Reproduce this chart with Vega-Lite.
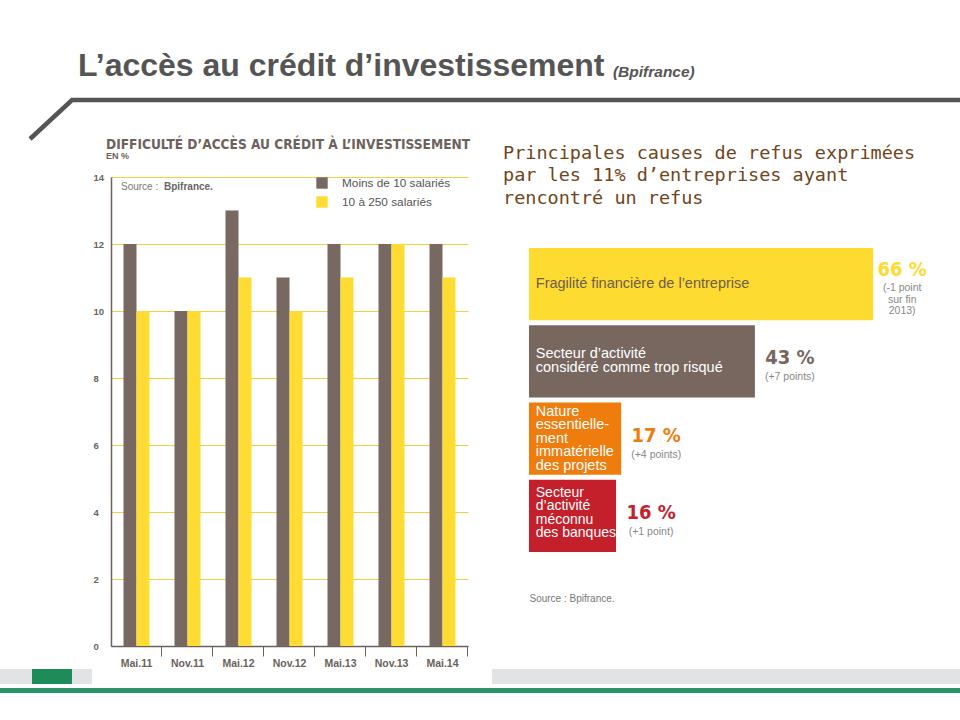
{
  "$schema": "https://vega.github.io/schema/vega-lite/v6.json",
  "background": "white",
  "padding": {"left": 0, "top": 50, "right": 0, "bottom": 0},
  "config": {"view": {"stroke": null}, "font": "Liberation Sans"},
  "spacing": -10,
  "vconcat": [
    {
      "width": 960, "height": 76,
      "title": {
        "text": "L’accès au crédit d’investissement",
        "anchor": "start", "frame": "group", "dx": 78, "offset": -45, "baseline": "alphabetic",
        "font": "Liberation Sans", "fontSize": 32, "fontWeight": "bold", "color": "#555555"
      },
      "layer": [
        {
          "data": {"values": [{"px": 0.03125, "py": 0}, {"px": 0.075, "py": 1}, {"px": 1, "py": 1}]},
          "mark": {"type": "line", "color": "#555555", "strokeWidth": 4.5, "strokeCap": "butt", "strokeJoin": "miter"},
          "encoding": {
            "x": {"field": "px", "type": "quantitative", "axis": null, "scale": {"domain": [0, 1], "nice": false, "zero": false}},
            "y": {"field": "py", "type": "quantitative", "axis": null, "scale": {"domain": [0, 1], "nice": false, "range": [76, 37]}}
          }
        },
        {
          "data": {"values": [{"t": "(Bpifrance)"}]},
          "mark": {"type": "text", "align": "left", "baseline": "alphabetic", "dy": -23, "font": "Liberation Sans", "fontSize": 15.5, "fontStyle": "italic", "fontWeight": "bold", "color": "#555555"},
          "encoding": {"x": {"datum": 0.6385}, "y": {"datum": 1}, "text": {"field": "t"}}
        }
      ]
    },
    {
      "spacing": 0,
      "vconcat": [
        {
          "spacing": 17,
          "resolve": {"scale": {"color": "independent", "x": "independent", "y": "independent"}},
          "hconcat": [
            {
              "width": 76, "height": 10,
              "data": {"values": [{"t": ""}]},
              "mark": {"type": "text"},
              "encoding": {"text": {"field": "t"}}
            },
            {
              "width": 375, "height": 469,
              "title": {
                "text": "DIFFICULTÉ D’ACCÈS AU CRÉDIT À L’INVESTISSEMENT",
                "subtitle": "EN %",
                "anchor": "start", "frame": "group", "dx": -5, "offset": 11,
                "font": "DejaVu Sans Condensed", "fontSize": 13.6, "fontWeight": "bold", "color": "#6b625c",
                "subtitleFont": "Liberation Sans", "subtitleFontSize": 9, "subtitleFontWeight": "bold", "subtitleColor": "#6b625c", "subtitlePadding": 0
              },
              "layer": [
                {
                  "data": {"values": [
                    {"period": "Mai.11", "group": "Moins de 10 salariés", "value": 12},
                    {"period": "Mai.11", "group": "10 à 250 salariés", "value": 10},
                    {"period": "Nov.11", "group": "Moins de 10 salariés", "value": 10},
                    {"period": "Nov.11", "group": "10 à 250 salariés", "value": 10},
                    {"period": "Mai.12", "group": "Moins de 10 salariés", "value": 13},
                    {"period": "Mai.12", "group": "10 à 250 salariés", "value": 11},
                    {"period": "Nov.12", "group": "Moins de 10 salariés", "value": 11},
                    {"period": "Nov.12", "group": "10 à 250 salariés", "value": 10},
                    {"period": "Mai.13", "group": "Moins de 10 salariés", "value": 12},
                    {"period": "Mai.13", "group": "10 à 250 salariés", "value": 11},
                    {"period": "Nov.13", "group": "Moins de 10 salariés", "value": 12},
                    {"period": "Nov.13", "group": "10 à 250 salariés", "value": 12},
                    {"period": "Mai.14", "group": "Moins de 10 salariés", "value": 12},
                    {"period": "Mai.14", "group": "10 à 250 salariés", "value": 11}
                  ]},
                  "mark": {"type": "bar"},
                  "encoding": {
                    "x": {
                      "field": "period", "type": "nominal", "sort": null,
                      "scale": {"paddingInner": 0.49, "paddingOuter": 0.245, "range": [0, 357]},
                      "axis": {
                        "title": null, "labelAngle": 0, "labelFont": "Liberation Sans", "labelFontSize": 10.5, "labelFontWeight": "bold", "labelColor": "#6b625c",
                        "bandPosition": 1.464, "tickSize": 10, "tickColor": "#6b625c", "tickWidth": 1,
                        "domainColor": "#6b625c", "domainWidth": 1.5, "labelPadding": 2
                      }
                    },
                    "xOffset": {
                      "field": "group", "type": "nominal",
                      "sort": ["Moins de 10 salariés", "10 à 250 salariés"],
                      "scale": {"paddingInner": 0, "paddingOuter": 0}
                    },
                    "y": {
                      "field": "value", "type": "quantitative",
                      "scale": {"domain": [0, 14], "nice": false},
                      "axis": {
                        "title": null, "values": [0, 2, 4, 6, 8, 10, 12, 14], "grid": true, "gridColor": "#f2d140", "gridWidth": 1,
                        "ticks": false, "domainColor": "#6b625c", "domainWidth": 1.5,
                        "labelAlign": "left", "labelPadding": 18, "labelFont": "Liberation Sans", "labelFontSize": 9.5, "labelFontWeight": "bold", "labelColor": "#6b625c"
                      }
                    },
                    "color": {
                      "field": "group", "type": "nominal",
                      "scale": {"domain": ["Moins de 10 salariés", "10 à 250 salariés"], "range": ["#776961", "#fedc33"]},
                      "legend": {
                        "orient": "none", "legendX": 205, "legendY": 0, "title": null,
                        "symbolType": "square", "symbolSize": 130, "symbolStrokeWidth": 0, "symbolOpacity": 1,
                        "labelFont": "Liberation Sans", "labelFontSize": 11.8, "labelColor": "#555555", "rowPadding": 6, "labelOffset": 14
                      }
                    }
                  }
                },
                {
                  "data": {"values": [{"note": "Source :"}]},
                  "mark": {"type": "text", "align": "left", "baseline": "middle", "fontSize": 10, "color": "#777777", "dx": -15.5},
                  "encoding": {"x": {"datum": "Mai.11"}, "y": {"datum": 13.7}, "text": {"field": "note"}}
                },
                {
                  "data": {"values": [{"note": "Bpifrance."}]},
                  "mark": {"type": "text", "align": "left", "baseline": "middle", "fontSize": 10, "fontWeight": "bold", "color": "#666666", "dx": 27.5},
                  "encoding": {"x": {"datum": "Mai.11"}, "y": {"datum": 13.7}, "text": {"field": "note"}}
                }
              ]
            },
            {
              "width": 415, "height": 375,
              "title": {
                "text": ["Principales causes de refus exprimées", "par les 11% d’entreprises ayant", "rencontré un refus"],
                "anchor": "start", "frame": "group", "dx": -21, "offset": -30,
                "font": "DejaVu Sans Mono", "fontSize": 18.5, "fontWeight": "normal", "color": "#704520", "lineHeight": 22.5
              },
              "data": {"values": [
                {"rank": 1, "cause": "Fragilité financière de l’entreprise", "pct": 66, "label": "66 %", "change": "(-1 point\nsur fin\n2013)"},
                {"rank": 2, "cause": "Secteur d’activité\nconsidéré comme trop risqué", "pct": 43, "label": "43 %", "change": "(+7 points)"},
                {"rank": 3, "cause": "Nature\nessentielle-\nment\nimmatérielle\ndes projets", "pct": 17, "label": "17 %", "change": "(+4 points)"},
                {"rank": 4, "cause": "Secteur\nd’activité\nméconnu\ndes banques", "pct": 16, "label": "16 %", "change": "(+1 point)"}
              ]},
              "encoding": {
                "y": {"field": "cause", "type": "nominal", "sort": {"field": "rank"}, "axis": null, "scale": {"paddingInner": 0.066, "paddingOuter": 0, "range": [71, 375]}}
              },
              "layer": [
                {
                  "mark": {"type": "bar", "x2Offset": -4.8},
                  "encoding": {
                    "x": {
                      "field": "pct", "type": "quantitative", "scale": {"domain": [-1.9, 78.8], "nice": false, "zero": false},
                      "axis": {
                        "title": "Source : Bpifrance.", "labels": false, "ticks": false, "domain": false, "grid": false,
                        "titleX": 5, "titleAlign": "left", "titleFont": "Liberation Sans", "titleFontSize": 10, "titleFontWeight": "normal", "titleColor": "#777777", "titlePadding": 41
                      }
                    },
                    "x2": {"datum": 0},
                    "color": {
                      "field": "rank", "type": "nominal",
                      "scale": {"domain": [1, 2, 3, 4], "range": ["#fedb31", "#77675f", "#ee7d0e", "#c4202c"]},
                      "legend": null
                    }
                  }
                },
                {
                  "transform": [{"filter": "datum.rank === 1"}],
                  "mark": {"type": "text", "align": "left", "baseline": "middle", "dx": 2, "dy": 0, "fontSize": 14.5, "lineHeight": 13.5, "lineBreak": "\n", "font": "Liberation Sans", "color": "#6d5d52"},
                  "encoding": {"x": {"datum": 0}, "text": {"field": "cause"}}
                },
                {
                  "transform": [{"filter": "datum.rank === 2"}],
                  "mark": {"type": "text", "align": "left", "baseline": "middle", "dx": 2, "dy": -7, "fontSize": 14.5, "lineHeight": 13.5, "lineBreak": "\n", "font": "Liberation Sans", "color": "#ffffff"},
                  "encoding": {"x": {"datum": 0}, "text": {"field": "cause"}}
                },
                {
                  "transform": [{"filter": "datum.rank === 3"}],
                  "mark": {"type": "text", "align": "left", "baseline": "middle", "dx": 2, "dy": -27, "fontSize": 14.5, "lineHeight": 13.5, "lineBreak": "\n", "font": "Liberation Sans", "color": "#ffffff"},
                  "encoding": {"x": {"datum": 0}, "text": {"field": "cause"}}
                },
                {
                  "transform": [{"filter": "datum.rank === 4"}],
                  "mark": {"type": "text", "align": "left", "baseline": "middle", "dx": 2, "dy": -23, "fontSize": 14, "lineHeight": 13.5, "lineBreak": "\n", "font": "Liberation Sans", "color": "#ffffff"},
                  "encoding": {"x": {"datum": 0}, "text": {"field": "cause"}}
                },
                {
                  "transform": [{"filter": "datum.rank === 1"}],
                  "mark": {"type": "text", "align": "center", "baseline": "middle", "dx": 29, "dy": -14, "fontSize": 20, "fontWeight": "bold", "font": "DejaVu Sans Condensed"},
                  "encoding": {
                    "x": {"field": "pct", "type": "quantitative"},
                    "text": {"field": "label"},
                    "color": {"field": "rank", "type": "nominal", "legend": null}
                  }
                },
                {
                  "transform": [{"filter": "datum.rank > 1"}],
                  "mark": {"type": "text", "align": "center", "baseline": "middle", "dx": 35, "dy": -3, "fontSize": 20, "fontWeight": "bold", "font": "DejaVu Sans Condensed"},
                  "encoding": {
                    "x": {"field": "pct", "type": "quantitative"},
                    "text": {"field": "label"},
                    "color": {"field": "rank", "type": "nominal", "legend": null}
                  }
                },
                {
                  "transform": [{"filter": "datum.rank === 1"}],
                  "mark": {"type": "text", "align": "center", "baseline": "middle", "dx": 29, "dy": 4, "fontSize": 10.5, "lineHeight": 11.5, "lineBreak": "\n", "color": "#888888", "font": "Liberation Sans"},
                  "encoding": {"x": {"field": "pct", "type": "quantitative"}, "text": {"field": "change"}}
                },
                {
                  "transform": [{"filter": "datum.rank > 1"}],
                  "mark": {"type": "text", "align": "center", "baseline": "middle", "dx": 35, "dy": 16, "fontSize": 10.5, "lineHeight": 11.5, "lineBreak": "\n", "color": "#888888", "font": "Liberation Sans"},
                  "encoding": {"x": {"field": "pct", "type": "quantitative"}, "text": {"field": "change"}}
                }
              ]
            }
          ]
        },
        {
          "spacing": 0,
          "vconcat": [
            {
              "spacing": 0,
              "hconcat": [
                {"width": 32, "height": 15, "view": {"fill": "#e1e3e4", "stroke": null}, "data": {"values": [{"t": ""}]}, "mark": {"type": "text"}, "encoding": {"text": {"field": "t"}}},
                {"width": 40, "height": 15, "view": {"fill": "#1f8b5b", "stroke": null}, "data": {"values": [{"t": ""}]}, "mark": {"type": "text"}, "encoding": {"text": {"field": "t"}}},
                {"width": 20, "height": 15, "view": {"fill": "#e1e3e4", "stroke": null}, "data": {"values": [{"t": ""}]}, "mark": {"type": "text"}, "encoding": {"text": {"field": "t"}}},
                {"width": 400, "height": 15, "view": {"stroke": null}, "data": {"values": [{"t": ""}]}, "mark": {"type": "text"}, "encoding": {"text": {"field": "t"}}},
                {"width": 468, "height": 15, "view": {"fill": "#e1e3e4", "stroke": null}, "data": {"values": [{"t": ""}]}, "mark": {"type": "text"}, "encoding": {"text": {"field": "t"}}}
              ]
            },
            {"width": 960, "height": 5, "view": {"fill": "#2a9468", "stroke": null}, "data": {"values": [{"t": ""}]}, "mark": {"type": "text"}, "encoding": {"text": {"field": "t"}}}
          ]
        }
      ]
    }
  ]
}
